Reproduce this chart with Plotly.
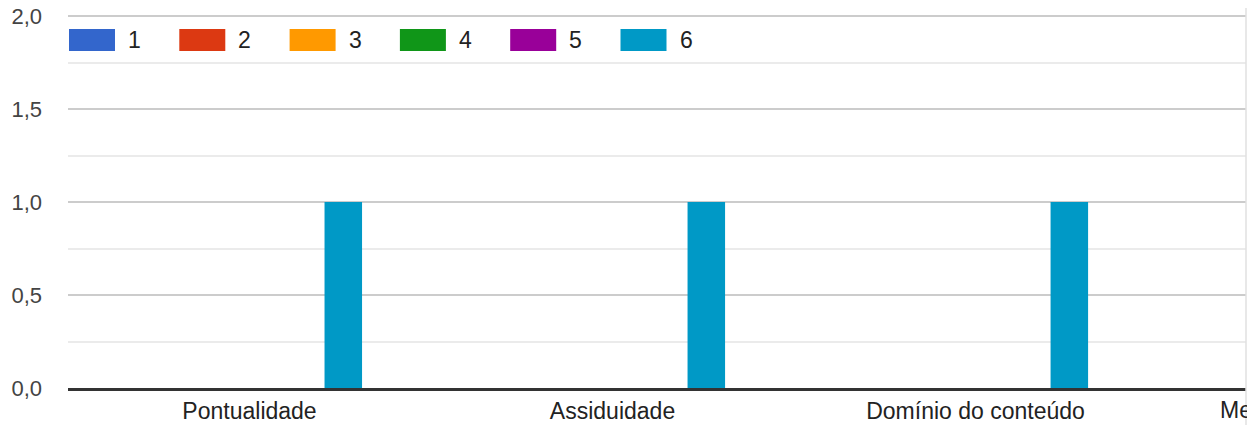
import plotly.graph_objects as go

categories = ["Pontualidade", "Assiduidade", "Domínio do conteúdo", "Metodologia de ensino"]
series_names = ["1", "2", "3", "4", "5", "6"]
series_values = [
    [0, 0, 0, 0],
    [0, 0, 0, 0],
    [0, 0, 0, 0],
    [0, 0, 0, 0],
    [0, 0, 0, 0],
    [1, 1, 1, 1],
]
colors = ["#3366cc", "#dc3912", "#ff9900", "#109618", "#990099", "#0099c6"]

FONT = "Arial, 'Liberation Sans', sans-serif"
OFF = 8  # page body margin
W, H = 1239, 417
ML, MR, MT, MB = 60, 1, 6, 37
PW = W - ML - MR
PH = H - MT - MB
x_range = [-0.5, 2.745]
y_range = [0, 2.012]

fig = go.Figure()
for name, vals, col in zip(series_names, series_values, colors):
    fig.add_trace(go.Bar(x=categories, y=vals, name=name, marker_color=col,
                         marker_line_width=0, showlegend=False))

def px_to_paper_x(px):
    # px given in screen pixels
    return (px - OFF - ML) / PW

def px_to_paper_y(py):
    return (H - MB - (py - OFF)) / PH

shapes = []
annotations = []
# legend (manual, large swatches)
for i, (name, col) in enumerate(zip(series_names, colors)):
    left = 69 + 110.3 * i
    shapes.append(dict(type="rect", xref="paper", yref="paper",
                       x0=px_to_paper_x(left), x1=px_to_paper_x(left + 46),
                       y0=px_to_paper_y(51), y1=px_to_paper_y(29),
                       fillcolor=col, line_width=0, layer="above"))
    annotations.append(dict(xref="paper", yref="paper",
                            x=px_to_paper_x(left + 57), y=px_to_paper_y(40),
                            xanchor="left", yanchor="middle", showarrow=False,
                            text=name, font=dict(family=FONT, size=23, color="#222222")))

# right border
shapes.append(dict(type="line", xref="paper", yref="paper", x0=1, x1=1,
                   y0=px_to_paper_y(430), y1=px_to_paper_y(0),
                   line=dict(color="#e0e0e0", width=1.5), layer="above"))

# clipped 4th category label
annotations.append(dict(xref="paper", yref="paper", x=px_to_paper_x(1218), y=px_to_paper_y(395),
                        xanchor="left", yanchor="top", showarrow=False,
                        text=categories[3], font=dict(family=FONT, size=23, color="#222222")))

fig.update_layout(
    width=W, height=H,
    margin=dict(l=ML, r=MR, t=MT, b=MB, pad=0, autoexpand=False),
    paper_bgcolor="white", plot_bgcolor="white",
    barmode="group", bargap=0.38, bargroupgap=0,
    separators=",.",
    font=dict(family=FONT, size=23, color="#222222"),
    shapes=shapes, annotations=annotations,
    xaxis=dict(type="category", range=x_range, showgrid=False, zeroline=False,
               showline=True, linecolor="#333333", linewidth=3, ticks="",
               ticklabeloverflow="allow", automargin=False,
               tickfont=dict(family=FONT, size=23, color="#222222")),
    yaxis=dict(range=y_range, tickmode="array", tickvals=[0, 0.5, 1, 1.5, 2],
               tickformat=".1f", showgrid=True,
               gridcolor="#cccccc", gridwidth=2, zeroline=False, showline=False,
               ticks="", ticklabelstandoff=25, ticklabeloverflow="allow", automargin=False,
               tickfont=dict(family=FONT, size=22, color="#444444"),
               minor=dict(tickmode="array", tickvals=[0.25, 0.75, 1.25, 1.75],
                          showgrid=True, gridcolor="#ebebeb", gridwidth=2)),
)

fig.write_html("out.html")
